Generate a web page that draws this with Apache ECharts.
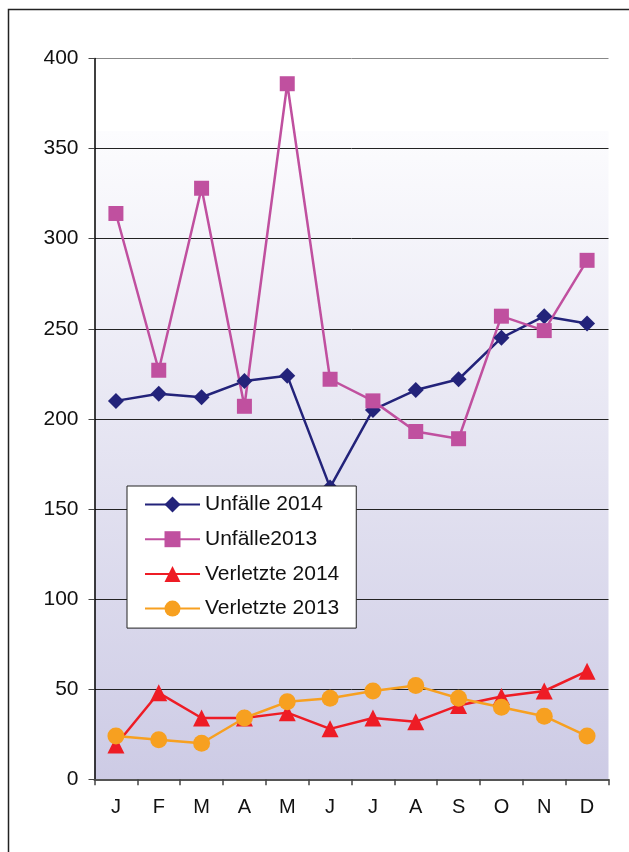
<!DOCTYPE html>
<html>
<head>
<meta charset="utf-8">
<script src="https://cdn.jsdelivr.net/npm/echarts@6/dist/echarts.min.js"></script>
<style>
html,body{margin:0;padding:0;background:#fff;}
#chart{width:629px;height:852px;}
</style>
</head>
<body>
<div id="chart"></div>
<script>
var months = ['J','F','M','A','M','J','J','A','S','O','N','D'];
var unfaelle2014 = [210,214,212,221,224,162,205,216,222,245,257,253];
var unfaelle2013 = [314,227,328,207,386,222,210,193,189,257,249,288];
var verletzte2014 = [19,48,34,34,37,28,34,32,41,46,49,60];
var verletzte2013 = [24,22,20,34,43,45,49,52,45,40,35,24];
var yTicks = [0,50,100,150,200,250,300,350,400];

var chart = echarts.init(document.getElementById('chart'), null, {renderer:'canvas'});
var font = '"Liberation Sans", Arial, sans-serif';
function series(name, data, color, symbol, size){
  return {name:name, type:'line', data:data, symbol:symbol, symbolSize:size,
    lineStyle:{color:color, width:2.5}, itemStyle:{color:color, opacity:1},
    emphasis:{disabled:true}, z:3, animation:false};
}
chart.setOption({
  animation:false,
  graphic:[{type:'rect', shape:{x:8.5, y:9.5, width:700, height:900},
    style:{fill:null, stroke:'#222', lineWidth:1.5}, z:0}],
  grid:{left:94.5, right:20.5, top:58.5, bottom:72.7, show:true, borderWidth:0,
    backgroundColor:{type:'linear', x:0, y:0, x2:0, y2:1, colorStops:[
      {offset:0, color:'#ffffff'},{offset:0.1, color:'#ffffff'},
      {offset:0.101, color:'#fcfcfe'},{offset:1, color:'#cdcbe5'}]}},
  xAxis:{type:'category', data:months, boundaryGap:true,
    axisLine:{lineStyle:{color:'#555', width:2}},
    axisTick:{show:true, length:6, lineStyle:{color:'#444', width:1.5}},
    axisLabel:{color:'#111', fontFamily:font, fontSize:20, margin:18}},
  yAxis:{type:'value', min:0, max:400, interval:50,
    axisLine:{show:true, lineStyle:{color:'#000', width:1.5}},
    axisTick:{show:true, length:6, lineStyle:{color:'#444'}},
    axisLabel:{color:'#111', fontFamily:font, fontSize:21, margin:16,
      formatter:function(v){return yTicks.indexOf(v)>=0 ? String(v) : '';}},
    splitLine:{show:true, lineStyle:{color:['#222','#222','#222','#222','#222','#222','#222','#222','#888'], width:1}}},
  legend:{orient:'vertical', left:127, top:486,
    backgroundColor:'#fff', borderColor:'#222', borderWidth:1,
    padding:[8,17,9,17], itemGap:13.7, itemWidth:55, itemHeight:20,
    textStyle:{fontFamily:font, fontSize:21, color:'#111', padding:[0,0,0,0]},
    data:['Unfälle 2014','Unfälle2013','Verletzte 2014','Verletzte 2013']},
  series:[
    series('Unfälle 2014', unfaelle2014, '#23237a', 'diamond', 16),
    series('Unfälle2013', unfaelle2013, '#c0509f', 'rect', 15),
    series('Verletzte 2014', verletzte2014, '#ee1c25', 'triangle', 17),
    series('Verletzte 2013', verletzte2013, '#f7a020', 'circle', 17)
  ]
});
</script>
</body>
</html>
